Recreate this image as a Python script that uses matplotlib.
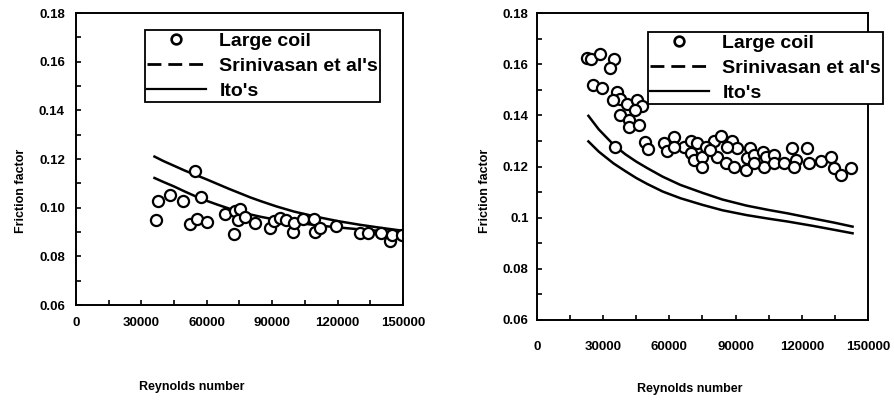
import numpy as np
import matplotlib
matplotlib.use("Agg")
import matplotlib.pyplot as plt
from matplotlib.lines import Line2D
from matplotlib.ticker import MultipleLocator, FuncFormatter

plt.rcParams['font.family'] = ['Liberation Sans', 'DejaVu Sans']
plt.rcParams['font.weight'] = 'bold'

# left panel: large coil measurements
left_re = [36700, 37700, 43100, 48900, 54500, 52200, 55300, 57300, 59900, 68300,
           72400, 72900, 75200, 74100, 77400, 82300, 89200, 90700, 93800, 96500,
           99600, 100000, 103900, 109100, 109500, 112100, 119100, 130100, 134000,
           140100, 143900, 145000, 149500]
left_f = [0.0951, 0.1027, 0.1053, 0.1027, 0.1149, 0.0932, 0.0955, 0.1043, 0.0942, 0.0972,
          0.0892, 0.0986, 0.0993, 0.0949, 0.0962, 0.0938, 0.0915, 0.0945, 0.0959, 0.0949,
          0.0901, 0.0939, 0.0955, 0.0953, 0.0901, 0.0915, 0.0924, 0.0895, 0.0897,
          0.0895, 0.0861, 0.0888, 0.0888]

left_curve_re = [36000, 40000, 45000, 50000, 55000, 60000, 65000, 70000, 75000, 80000,
                 85000, 92000, 100000, 110000, 120000, 130000, 140000, 150000]
left_srini = [0.1210, 0.1192, 0.1172, 0.1152, 0.1134, 0.1116, 0.1097, 0.1078, 0.1060, 0.1042,
              0.1026, 0.1005, 0.0984, 0.0963, 0.0945, 0.0930, 0.0917, 0.0905]
left_ito = [0.1122, 0.1106, 0.1087, 0.1066, 0.1046, 0.1028, 0.1012, 0.0997, 0.0984, 0.0972,
            0.0962, 0.0950, 0.0940, 0.0928, 0.0919, 0.0911, 0.0904, 0.0897]

# right panel
right_re = [22600, 24550, 28630, 35000, 33180, 25300, 29400, 36200, 37700, 34400,
            40800, 45300, 47600, 44600, 37700, 41500, 41500, 46100, 35400, 48800,
            50300, 57700, 58900, 62300, 66500, 69600, 72300, 69600, 71100, 74900,
            74900, 80200, 83200, 81700, 85500, 88500, 90800, 89200, 96500, 95300,
            94500, 98400, 102600, 103700, 102900, 107400, 107400, 112000, 115700, 117300,
            116500, 122300, 123300, 128600, 133200, 134700, 137700, 142300, 76400, 86200,
            98400, 62000, 78600]
right_f = [0.1624, 0.1622, 0.1641, 0.1620, 0.1585, 0.1520, 0.1507, 0.1490, 0.1464, 0.1461,
           0.1444, 0.1461, 0.1435, 0.1422, 0.1402, 0.1383, 0.1353, 0.1363, 0.1278, 0.1294,
           0.1268, 0.1291, 0.1259, 0.1317, 0.1278, 0.1298, 0.1291, 0.1252, 0.1226, 0.1239,
           0.1200, 0.1298, 0.1320, 0.1239, 0.1213, 0.1298, 0.1272, 0.1200, 0.1272, 0.1233,
           0.1187, 0.1246, 0.1255, 0.1239, 0.1200, 0.1246, 0.1213, 0.1213, 0.1272, 0.1226,
           0.1200, 0.1272, 0.1213, 0.1220, 0.1239, 0.1193, 0.1167, 0.1193, 0.1278, 0.1278,
           0.1213, 0.1278, 0.1265]

right_curve_re = [23300, 28000, 34700, 40000, 45000, 49900, 57000, 65000, 75000, 84000,
                  95000, 105000, 113500, 125000, 135000, 143000]
right_srini = [0.1398, 0.1345, 0.1285, 0.1248, 0.1219, 0.1194, 0.1160, 0.1128, 0.1097, 0.1071,
               0.1047, 0.1030, 0.1017, 0.0997, 0.0980, 0.0965]
right_ito = [0.1298, 0.1258, 0.1212, 0.1182, 0.1155, 0.1132, 0.1102, 0.1076, 0.1050, 0.1029,
             0.1010, 0.0996, 0.0985, 0.0968, 0.0952, 0.0939]

W, H = 895, 400
fig = plt.figure(figsize=(W / 100, H / 100), dpi=100)


def px_axes(l, t, r, b):
    return fig.add_axes([l / W, 1 - b / H, (r - l) / W, (b - t) / H])


def style(ax, yfmt, xpad, ypad):
    ax.set_xlim(0, 150000)
    ax.set_ylim(0.06, 0.18)
    ax.xaxis.set_major_locator(MultipleLocator(30000))
    ax.xaxis.set_minor_locator(MultipleLocator(15000))
    ax.yaxis.set_major_locator(MultipleLocator(0.02))
    ax.yaxis.set_minor_locator(MultipleLocator(0.01))
    ax.yaxis.set_major_formatter(FuncFormatter(yfmt))
    ax.tick_params(which='both', direction='in', length=3.5, width=1.2)
    ax.tick_params(axis='x', pad=xpad, labelsize=9.5)
    ax.tick_params(axis='y', pad=ypad, labelsize=9.5)
    for s in ax.spines.values():
        s.set_linewidth(1.4)


def legend(ax, x, y):
    handles = [
        Line2D([], [], ls='none', marker='o', ms=7, mfc='white', mec='black', mew=1.9),
        Line2D([], [], ls=(0, (5, 2.5)), color='black', lw=2),
        Line2D([], [], ls='-', color='black', lw=1.6),
    ]
    labels = ["Large coil", "Srinivasan et al's", "Ito's"]
    leg = ax.legend(handles, labels, loc='upper left', bbox_to_anchor=(x / W, 1 - y / H),
                    bbox_transform=fig.transFigure, borderaxespad=0, fancybox=False,
                    framealpha=1, edgecolor='black', handlelength=3.0, handletextpad=0.7,
                    labelspacing=0.38, borderpad=0.12,
                    prop={'family': 'Liberation Sans', 'weight': 'bold', 'size': 14})
    leg.get_frame().set_linewidth(1.3)


# left panel
ax1 = px_axes(76, 13, 403, 305)
ax1.plot(left_curve_re, left_srini, color='black', lw=1.8)
ax1.plot(left_curve_re, left_ito, color='black', lw=1.8)
ax1.plot(left_re, left_f, ls='none', marker='o', ms=8, mfc='white', mec='black', mew=1.6)
style(ax1, lambda v, p: f"{v:.2f}", 9, 8)
ax1.set_xlabel("Reynolds number", fontsize=9, fontweight='bold')
ax1.set_ylabel("Friction factor", fontsize=9, fontweight='bold')
ax1.xaxis.set_label_coords(0.355, -0.26)
ax1.yaxis.set_label_coords(-0.15, 0.39)
legend(ax1, 145, 30)

# right panel
ax2 = px_axes(537, 13, 868, 320)
ax2.plot(right_curve_re, right_srini, color='black', lw=1.8)
ax2.plot(right_curve_re, right_ito, color='black', lw=1.8)
ax2.plot(right_re, right_f, ls='none', marker='o', ms=8, mfc='white', mec='black', mew=1.6)
style(ax2, lambda v, p: f"{v:g}", 15, 6)
ax2.set_xlabel("Reynolds number", fontsize=9, fontweight='bold')
ax2.set_ylabel("Friction factor", fontsize=9, fontweight='bold')
ax2.xaxis.set_label_coords(0.462, -0.205)
ax2.yaxis.set_label_coords(-0.14, 0.42)
legend(ax2, 648, 32)

fig.savefig("out.png", dpi=100)
